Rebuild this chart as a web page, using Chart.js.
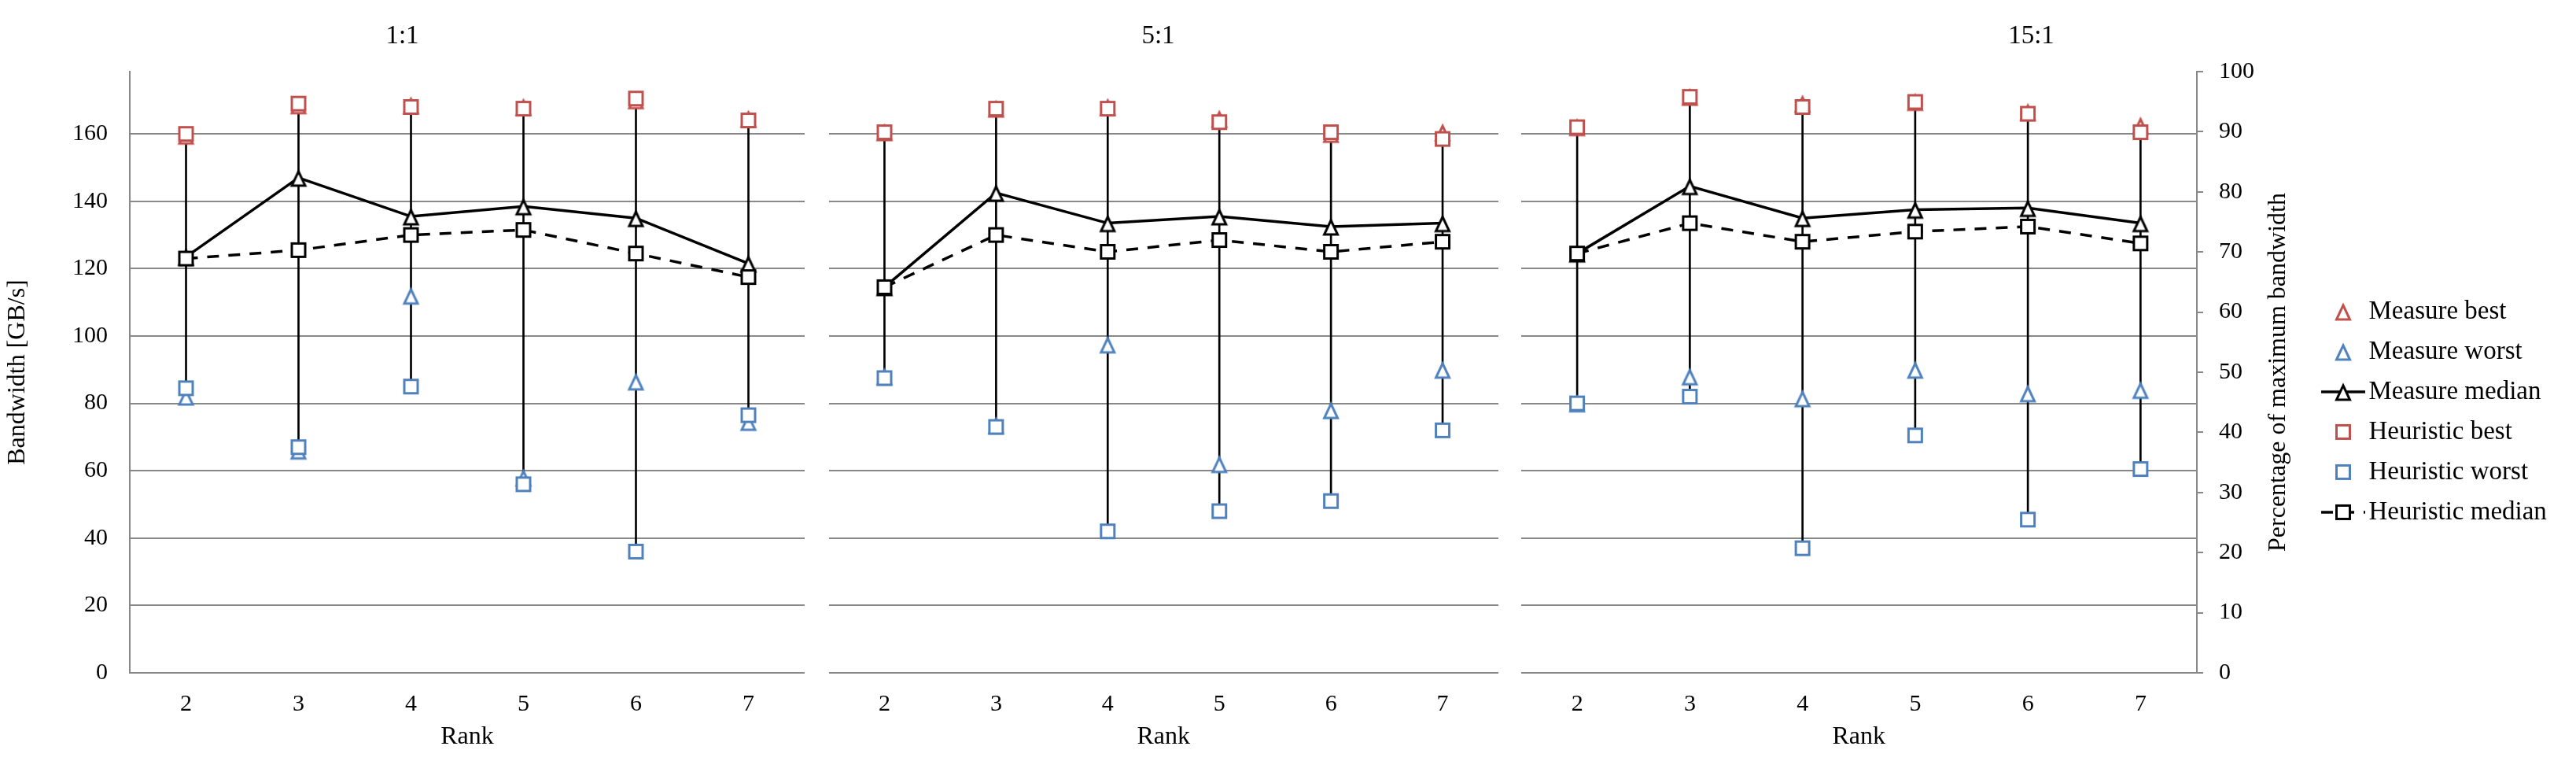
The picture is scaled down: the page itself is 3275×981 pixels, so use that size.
<!DOCTYPE html>
<html>
<head>
<meta charset="utf-8">
<title>Bandwidth by rank</title>
<script src="https://cdn.jsdelivr.net/npm/chart.js@4/dist/chart.umd.min.js"></script>
<style>
    html, body { margin: 0; padding: 0; background: #fff; }
    #wrap { position: relative; width: 3275px; height: 981px; overflow: hidden; }
    #wrap canvas { position: absolute; top: 0; }
</style>
</head>
<body>
<div id="wrap">
    <canvas id="panel1" width="1040" height="981" style="left:0px"></canvas>
    <canvas id="panel2" width="880" height="981" style="left:1040px"></canvas>
    <canvas id="panel3" width="1355" height="981" style="left:1920px"></canvas>
</div>
<script>
// categories and tick labels
const ranks = ['2', '3', '4', '5', '6', '7'];
const panelTitles = ['1:1', '5:1', '15:1'];
const seriesNames = ['Measure best', 'Measure worst', 'Measure median',
                     'Heuristic best', 'Heuristic worst', 'Heuristic median'];
const bandwidthTicks = [0, 20, 40, 60, 80, 100, 120, 140, 160];
const bandwidthMax = 178.5;
const percentTicks = [0, 10, 20, 30, 40, 50, 60, 70, 80, 90, 100];
const percentMax = 100;

// 1:1
const measureBest1     = [159.5, 168.5, 168.5, 168, 170, 164.5];
const measureWorst1    = [82, 66, 112, 58, 86.5, 74.5];
const measureMedian1   = [123.5, 147, 135.5, 138.5, 135, 121.5];
const heuristicBest1   = [160, 169, 168, 167.5, 170.5, 164];
const heuristicWorst1  = [84.5, 67, 85, 56, 36, 76.5];
const heuristicMedian1 = [123, 125.5, 130, 131.5, 124.5, 117.5];

// 5:1
const measureBest2     = [160.5, 167.5, 168, 164.5, 160, 160.5];
const measureWorst2    = [88, 73.5, 97.5, 62, 78, 90];
const measureMedian2   = [114.5, 142.5, 133.5, 135.5, 132.5, 133.5];
const heuristicBest2   = [160.5, 167.5, 167.5, 163.5, 160.5, 158.5];
const heuristicWorst2  = [87.5, 73, 42, 48, 51, 72];
const heuristicMedian2 = [114.5, 130, 125, 128.5, 125, 128];

// 15:1
const measureBest3     = [162, 171, 169, 169.5, 166.5, 162.5];
const measureWorst3    = [80, 88, 81.5, 90, 83, 84];
const measureMedian3   = [124.5, 144.5, 135, 137.5, 138, 133.5];
const heuristicBest3   = [162, 171, 168, 169.5, 166, 160.5];
const heuristicWorst3  = [80, 82, 37, 70.5, 45.5, 60.5];
const heuristicMedian3 = [124.5, 133.5, 128, 131, 132.5, 127.5];

const RED = '#C0504D';
const BLUE = '#4F81BD';
const BLACK = '#000000';
const GRID = '#888888';
const FONT = "'Liberation Serif', 'Times New Roman', serif";

Chart.defaults.font.family = FONT;
Chart.defaults.color = BLACK;

// hollow Excel-like markers, optionally with a line through them (legend)
function makeMarker(shape, color, lineStyle) {
    const w = lineStyle ? 56 : 26;
    const h = 28;
    const c = document.createElement('canvas');
    c.width = w;
    c.height = h;
    const ctx = c.getContext('2d');
    const cx = w / 2, cy = h / 2;
    if (lineStyle) {
        ctx.strokeStyle = color;
        ctx.lineWidth = 3.5;
        if (lineStyle === 'dashed') ctx.setLineDash([15, 12]);
        ctx.beginPath();
        ctx.moveTo(0, cy);
        ctx.lineTo(w, cy);
        ctx.stroke();
        ctx.setLineDash([]);
    }
    ctx.strokeStyle = color;
    ctx.fillStyle = '#ffffff';
    ctx.lineWidth = 3;
    ctx.beginPath();
    if (shape === 'triangle') {
        ctx.moveTo(cx, cy - 8);
        ctx.lineTo(cx + 8.5, cy + 10);
        ctx.lineTo(cx - 8.5, cy + 10);
        ctx.closePath();
    } else {
        ctx.rect(cx - 8.5, cy - 8.5, 17, 17);
    }
    ctx.fill();
    ctx.stroke();
    return c;
}

const markers = [
    makeMarker('triangle', RED), makeMarker('triangle', BLUE), makeMarker('triangle', BLACK),
    makeMarker('rect', RED), makeMarker('rect', BLUE), makeMarker('rect', BLACK)
];
const legendIcons = [
    makeMarker('triangle', RED), makeMarker('triangle', BLUE), makeMarker('triangle', BLACK, 'solid'),
    makeMarker('rect', RED), makeMarker('rect', BLUE), makeMarker('rect', BLACK, 'dashed')
];

// right axis title reads bottom to top, Chart.js would rotate it the other way
const rightTitlePlugin = {
    id: 'rightTitle',
    afterDraw(chart, args, opts) {
        const scale = chart.scales.y2;
        if (!scale || !opts.text) return;
        const ctx = chart.ctx;
        const area = chart.chartArea;
        ctx.save();
        ctx.translate(scale.left + opts.offset, (area.top + area.bottom) / 2);
        ctx.rotate(-Math.PI / 2);
        ctx.font = '32px ' + FONT;
        ctx.fillStyle = BLACK;
        ctx.textAlign = 'center';
        ctx.textBaseline = 'middle';
        ctx.fillText(opts.text, 0, 0);
        ctx.restore();
    }
};

function createPanel(canvasId, title, series, cfg) {
    const canvas = document.getElementById(canvasId);
    if (!canvas) return;

    // high-low line: from the lowest to the highest value of all six series
    const highLow = ranks.map((r, i) => {
        const vals = series.map(s => s[i]);
        return [Math.min(...vals), Math.max(...vals)];
    });

    const datasets = [{
        type: 'bar',
        data: highLow,
        backgroundColor: BLACK,
        borderWidth: 0,
        barThickness: 2,
        order: 7
    }];
    series.forEach((values, i) => {
        const isMedian = i === 2 || i === 5;
        datasets.push({
            label: seriesNames[i],
            data: values,
            showLine: isMedian,
            borderColor: BLACK,
            borderWidth: 3.5,
            borderDash: i === 5 ? [15, 12] : [],
            pointStyle: markers[i],
            pointRadius: 10,
            pointHoverRadius: 10,
            order: 6 - i
        });
    });

    const tickFont = { size: 30 };
    const axisTitleFont = { size: 32 };

    const scales = {
        x: {
            type: 'category',
            labels: ranks,
            offset: true,
            grid: { display: false, drawTicks: false },
            border: { display: false },
            ticks: { font: tickFont, padding: 22, maxRotation: 0 },
            title: { display: true, text: 'Rank', font: axisTitleFont, padding: { top: 0, bottom: 24.8 } },
            afterFit: s => { s.height = 126; }
        },
        y: {
            min: 0,
            max: bandwidthMax,
            afterBuildTicks: s => { s.ticks = bandwidthTicks.map(v => ({ value: v })); },
            grid: { color: GRID, lineWidth: 2, drawTicks: false },
            border: { display: cfg.leftAxis, color: GRID, width: 2 },
            ticks: { display: cfg.leftAxis, font: tickFont, padding: 28 },
            title: {
                display: cfg.leftAxis,
                text: 'Bandwidth [GB/s]',
                font: axisTitleFont,
                padding: { top: 3.8, bottom: 0 }
            },
            afterFit: s => { s.width = cfg.leftWidth; }
        }
    };
    if (cfg.rightAxis) {
        scales.y2 = {
            position: 'right',
            min: 0,
            max: percentMax,
            afterBuildTicks: s => { s.ticks = percentTicks.map(v => ({ value: v })); },
            grid: { drawOnChartArea: false, drawTicks: true, tickLength: 8, color: GRID, lineWidth: 2 },
            border: { display: true, color: GRID, width: 2 },
            ticks: { font: tickFont, padding: 20 },
            afterFit: s => { s.width = 152; }
        };
    }

    return new Chart(canvas.getContext('2d'), {
        type: 'line',
        data: { labels: ranks, datasets: datasets },
        options: {
            responsive: false,
            animation: false,
            devicePixelRatio: 1,
            layout: { padding: { left: 0, right: cfg.rightPad, top: 0, bottom: 0 } },
            scales: scales,
            plugins: {
                title: {
                    display: true,
                    text: title,
                    font: { size: 33, weight: 'normal' },
                    color: BLACK,
                    padding: { top: 27, bottom: 24.4 }
                },
                tooltip: { enabled: false },
                rightTitle: { text: cfg.rightAxis ? 'Percentage of maximum bandwidth' : '', offset: 104 },
                legend: {
                    display: cfg.legend,
                    position: 'right',
                    align: 'start',
                    maxWidth: 300,
                    title: { display: true, text: '', font: { size: 12 }, padding: { top: 347, bottom: 0 } },
                    labels: {
                        usePointStyle: true,
                        pointStyleWidth: 32,
                        boxHeight: 33,
                        padding: 18,
                        font: { size: 33 },
                        color: BLACK,
                        generateLabels: () => seriesNames.map((name, i) => ({
                            text: name,
                            pointStyle: legendIcons[i],
                            fillStyle: '#ffffff',
                            strokeStyle: '#ffffff',
                            lineWidth: 0,
                            fontColor: BLACK,
                            hidden: false,
                            datasetIndex: i + 1
                        }))
                    }
                }
            }
        },
        plugins: [rightTitlePlugin]
    });
}

createPanel('panel1', panelTitles[0],
    [measureBest1, measureWorst1, measureMedian1, heuristicBest1, heuristicWorst1, heuristicMedian1],
    { leftAxis: true, leftWidth: 165, rightAxis: false, legend: false, rightPad: 17 });
createPanel('panel2', panelTitles[1],
    [measureBest2, measureWorst2, measureMedian2, heuristicBest2, heuristicWorst2, heuristicMedian2],
    { leftAxis: false, leftWidth: 11, rightAxis: false, legend: false, rightPad: 15 });
createPanel('panel3', panelTitles[2],
    [measureBest3, measureWorst3, measureMedian3, heuristicBest3, heuristicWorst3, heuristicMedian3],
    { leftAxis: false, leftWidth: 13, rightAxis: true, legend: true, rightPad: 30 });
</script>
</body>
</html>
